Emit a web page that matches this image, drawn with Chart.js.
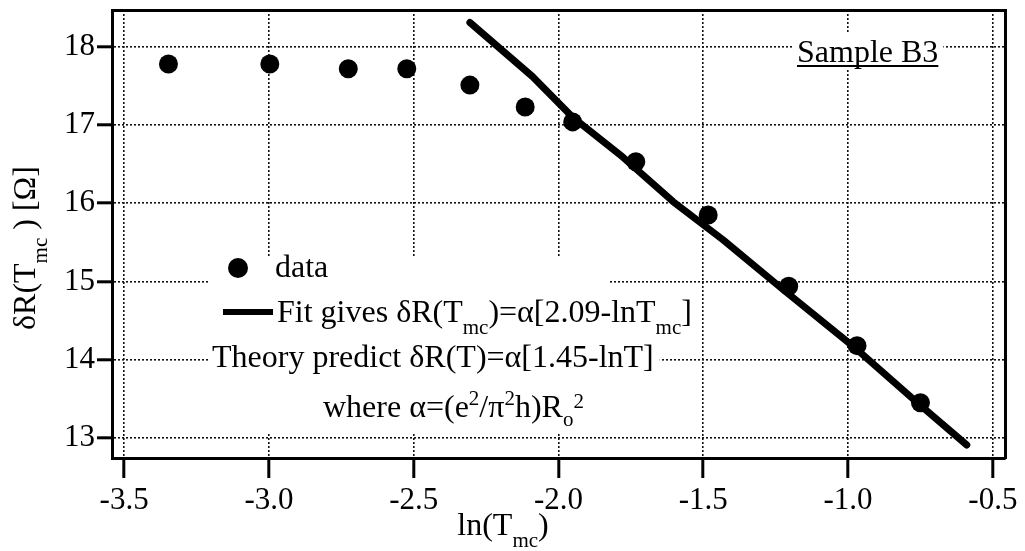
<!DOCTYPE html>
<html>
<head>
<meta charset="utf-8">
<script src="https://cdn.jsdelivr.net/npm/chart.js@4/dist/chart.umd.min.js"></script>
<style>
  html, body { margin: 0; padding: 0; background: #fff; }
  #wrap { width: 1025px; height: 551px; }
</style>
</head>
<body>
<div id="wrap"><canvas id="chart" width="1025" height="551"></canvas></div>
<script>
'use strict';

/* ── Data ─────────────────────────────────────────────── */
const DATA_X = [-3.347, -2.997, -2.726, -2.524, -2.306, -2.115, -1.951, -1.733, -1.483, -1.205, -0.969, -0.750];
const DATA_Y = [17.78, 17.78, 17.72, 17.72, 17.51, 17.23, 17.04, 16.53, 15.85, 14.94, 14.18, 13.45];

const FIT_X = [-2.306, -2.090, -1.951, -1.778, -1.604, -1.431, -1.222, -0.969, -0.760, -0.590];
const FIT_Y = [18.31, 17.62, 17.10, 16.59, 16.02, 15.53, 14.89, 14.13, 13.45, 12.91];

const X_TICKS = [-3.5, -3.0, -2.5, -2.0, -1.5, -1.0, -0.5];
const Y_TICKS = [13, 14, 15, 16, 17, 18];
const X_RANGE = [-3.542, -0.458];
const Y_RANGE = [12.744, 18.47];

const FONT = '"Liberation Serif", "Times New Roman", serif';
const FS = 32;       // annotation text
const TICK_FS = 31;  // tick labels

/* ── Rich text helpers (sub/superscripts) ─────────────── */
function partFont(p) {
  return ((p.sub || p.sup) ? Math.round(FS * 0.66) : FS) + 'px ' + FONT;
}
function richWidth(ctx, parts) {
  let w = 0;
  parts.forEach(p => { ctx.font = partFont(p); w += ctx.measureText(p.t).width; });
  return w;
}
function richText(ctx, parts, x, y) {
  parts.forEach(p => {
    ctx.font = partFont(p);
    const dy = p.sub ? (p.dy || 12) : p.sup ? -(p.dy || 12) : 0;
    ctx.fillText(p.t, x, y + dy);
    x += ctx.measureText(p.t).width;
  });
  return x;
}

const LEGEND_FIT = [
  { t: 'Fit gives δR(T' }, { t: 'mc', sub: true }, { t: ')=α[2.09-lnT' }, { t: 'mc', sub: true }, { t: ']' }
];
const THEORY = [{ t: 'Theory predict δR(T)=α[1.45-lnT]' }];
const WHERE = [
  { t: 'where α=(e' }, { t: '2', sup: true }, { t: '/π' }, { t: '2', sup: true }, { t: 'h)R' },
  { t: 'o', sub: true, dy: 9 }, { t: '2', sup: true, dy: 9 }
];
const X_TITLE = [{ t: 'ln(T' }, { t: 'mc', sub: true }, { t: ')' }];
const Y_TITLE = [{ t: 'δR(T' }, { t: 'mc', sub: true }, { t: ' ) [Ω]' }];

/* ── Annotation plugin: legend box, labels, titles ────── */
const annotations = {
  id: 'annotations',
  afterDatasetsDraw(chart) {
    const ctx = chart.ctx;
    ctx.save();
    ctx.textBaseline = 'alphabetic';
    ctx.textAlign = 'left';

    // white boxes masking the grid behind the legend text
    const fitW = richWidth(ctx, LEGEND_FIT);
    const thW = richWidth(ctx, THEORY);
    ctx.fillStyle = '#fff';
    ctx.fillRect(209, 256, 400, 176);
    ctx.fillRect(209, 290, 277 + fitW + 6 - 209, 45);
    ctx.fillRect(209, 338, 212 + thW + 6 - 209, 42);
    ctx.fillStyle = '#000';
    ctx.strokeStyle = '#000';

    // data marker
    ctx.beginPath();
    ctx.arc(238, 268, 10, 0, Math.PI * 2);
    ctx.fill();
    ctx.font = FS + 'px ' + FONT;
    ctx.fillText('data', 275, 277);

    // fit marker
    ctx.lineWidth = 6;
    ctx.beginPath();
    ctx.moveTo(223, 312);
    ctx.lineTo(273, 312);
    ctx.stroke();
    richText(ctx, LEGEND_FIT, 277, 322);

    richText(ctx, THEORY, 212, 367);
    richText(ctx, WHERE, 323, 417);

    // sample label
    ctx.font = FS + 'px ' + FONT;
    const sw = ctx.measureText('Sample B3').width;
    ctx.fillStyle = '#fff';
    ctx.fillRect(792, 34, sw + 10, 36);
    ctx.fillStyle = '#000';
    ctx.fillText('Sample B3', 797, 62);
    ctx.lineWidth = 2;
    ctx.beginPath();
    ctx.moveTo(797, 66);
    ctx.lineTo(797 + sw, 66);
    ctx.stroke();

    // axis titles
    const xw = richWidth(ctx, X_TITLE);
    richText(ctx, X_TITLE, 503 - xw / 2, 535);

    const yw = richWidth(ctx, Y_TITLE);
    ctx.translate(35, 248);
    ctx.rotate(-Math.PI / 2);
    richText(ctx, Y_TITLE, -yw / 2, 0);
    ctx.restore();
  }
};

/* ── Chart ─────────────────────────────────────────────── */
const gridOpts = {
  color: '#111',
  lineWidth: 1.6,
  tickColor: '#000',
  tickWidth: 3,
};

new Chart(document.getElementById('chart').getContext('2d'), {
  type: 'scatter',
  data: {
    datasets: [
      {
        label: 'Fit',
        data: FIT_X.map((x, i) => ({ x, y: FIT_Y[i] })),
        showLine: true,
        borderColor: '#000',
        backgroundColor: '#000',
        borderWidth: 7,
        borderCapStyle: 'round',
        borderJoinStyle: 'round',
        pointRadius: 0,
        tension: 0,
      },
      {
        label: 'data',
        data: DATA_X.map((x, i) => ({ x, y: DATA_Y[i] })),
        backgroundColor: '#000',
        borderColor: '#000',
        pointRadius: 9.5,
        borderWidth: 0,
      }
    ]
  },
  options: {
    responsive: false,
    animation: false,
    events: [],
    layout: { padding: { left: 0, top: 10, right: 20, bottom: 0 } },
    plugins: { legend: { display: false }, tooltip: { enabled: false } },
    scales: {
      x: {
        type: 'linear',
        position: 'bottom',
        min: X_RANGE[0], max: X_RANGE[1],
        afterBuildTicks: s => { s.ticks = X_TICKS.map(v => ({ value: v })); },
        afterFit: s => { s.height = 93; s.paddingLeft = 0; s.paddingRight = 0; },
        ticks: {
          color: '#000',
          padding: 4,
          maxRotation: 0,
          font: { family: FONT, size: TICK_FS },
          callback: v => v.toFixed(1)
        },
        grid: Object.assign({ tickLength: 20 }, gridOpts),
        border: { color: '#000', width: 3, dash: [2, 2] }
      },
      y: {
        type: 'linear',
        position: 'left',
        min: Y_RANGE[0], max: Y_RANGE[1],
        afterBuildTicks: s => { s.ticks = Y_TICKS.map(v => ({ value: v })); },
        afterFit: s => { s.width = 112; s.paddingTop = 0; s.paddingBottom = 0; },
        ticks: {
          color: '#000',
          padding: 2,
          font: { family: FONT, size: TICK_FS },
          callback: v => String(v)
        },
        grid: Object.assign({ tickLength: 15 }, gridOpts),
        border: { color: '#000', width: 3, dash: [2, 2] }
      },
      x2: {
        type: 'linear',
        position: 'top',
        min: X_RANGE[0], max: X_RANGE[1],
        afterFit: s => { s.height = 0; s.paddingLeft = 0; s.paddingRight = 0; },
        ticks: { display: false },
        grid: { display: false },
        border: { color: '#000', width: 3 }
      },
      y2: {
        type: 'linear',
        position: 'right',
        min: Y_RANGE[0], max: Y_RANGE[1],
        afterFit: s => { s.width = 0; s.paddingTop = 0; s.paddingBottom = 0; },
        ticks: { display: false },
        grid: { display: false },
        border: { color: '#000', width: 3 }
      }
    }
  },
  plugins: [annotations]
});
</script>
</body>
</html>
